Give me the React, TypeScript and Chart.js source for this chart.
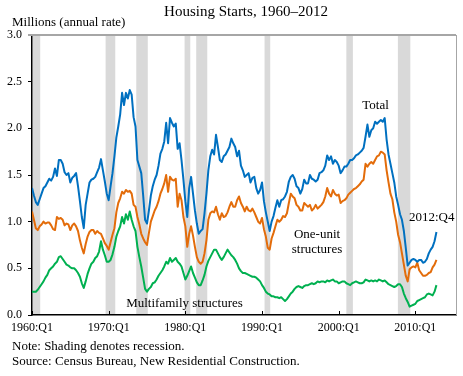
import React, { useEffect, useRef } from "react";
import { Chart, registerables } from "chart.js";

Chart.register(...registerables);

const FONT = '"Liberation Serif", "Times New Roman", Times, serif';

// Quarterly data, 1960:Q1 .. 2012:Q4 (millions, annual rate)
const firstYear = 1960;

const totalStarts = [
  1.36, 1.28, 1.21, 1.18, // 1960
  1.24, 1.30, 1.36, 1.38, // 1961
  1.42, 1.46, 1.44, 1.48, // 1962
  1.57, 1.49, 1.66, 1.66, // 1963
  1.62, 1.53, 1.50, 1.52, // 1964
  1.42, 1.47, 1.49, 1.52, // 1965
  1.38, 1.22, 1.05, 0.93, // 1966
  1.18, 1.30, 1.42, 1.45, // 1967
  1.46, 1.48, 1.53, 1.58, // 1968
  1.67, 1.55, 1.43, 1.30, // 1969
  1.23, 1.38, 1.52, 1.70, // 1970
  1.90, 2.02, 2.15, 2.38, // 1971
  2.25, 2.38, 2.32, 2.41, // 1972
  2.36, 2.12, 2.02, 1.66, // 1973
  1.59, 1.52, 1.28, 1.02, // 1974
  0.98, 1.12, 1.28, 1.38, // 1975
  1.45, 1.50, 1.60, 1.73, // 1976
  1.78, 1.86, 2.06, 1.84, // 1977
  2.11, 2.06, 2.02, 2.05, // 1978
  1.78, 1.84, 1.66, 1.45, // 1979
  1.22, 1.05, 1.36, 1.48, // 1980
  1.30, 1.12, 0.98, 0.87, // 1981
  0.90, 0.92, 1.09, 1.30, // 1982
  1.55, 1.70, 1.77, 1.72, // 1983
  1.93, 1.80, 1.66, 1.64, // 1984
  1.70, 1.72, 1.76, 1.80, // 1985
  1.89, 1.84, 1.80, 1.70, // 1986
  1.76, 1.60, 1.55, 1.48, // 1987
  1.50, 1.52, 1.42, 1.47, // 1988
  1.48, 1.36, 1.30, 1.34, // 1989
  1.42, 1.22, 1.10, 1.00, // 1990
  0.90, 1.00, 1.06, 1.15, // 1991
  1.23, 1.16, 1.23, 1.24, // 1992
  1.27, 1.32, 1.43, 1.48, // 1993
  1.50, 1.46, 1.38, 1.36, // 1994
  1.30, 1.35, 1.45, 1.41, // 1995
  1.41, 1.50, 1.46, 1.45, // 1996
  1.43, 1.45, 1.52, 1.53, // 1997
  1.55, 1.60, 1.71, 1.66, // 1998
  1.70, 1.62, 1.66, 1.64, // 1999
  1.60, 1.52, 1.55, 1.59, // 2000
  1.59, 1.62, 1.66, 1.66, // 2001
  1.68, 1.71, 1.72, 1.74, // 2002
  1.76, 1.79, 1.91, 2.04, // 2003
  1.91, 1.98, 2.00, 2.07, // 2004
  2.05, 2.07, 2.09, 2.07, // 2005
  2.11, 1.88, 1.72, 1.62, // 2006
  1.52, 1.42, 1.27, 1.18, // 2007
  1.08, 1.02, 0.90, 0.72, // 2008
  0.53, 0.56, 0.59, 0.60, // 2009
  0.59, 0.57, 0.59, 0.59, // 2010
  0.56, 0.57, 0.60, 0.66, // 2011
  0.70, 0.73, 0.79, 0.89, // 2012
];

const oneUnitStarts = [
  1.11, 1.02, 0.93, 0.91, // 1960
  0.95, 0.97, 1.00, 0.98, // 1961
  0.99, 0.99, 0.96, 0.92, // 1962
  0.91, 1.05, 1.03, 1.04, // 1963
  1.02, 0.96, 0.98, 0.97, // 1964
  0.91, 0.96, 0.98, 0.95, // 1965
  0.90, 0.80, 0.72, 0.66, // 1966
  0.76, 0.84, 0.89, 0.91, // 1967
  0.91, 0.87, 0.90, 0.88, // 1968
  0.87, 0.82, 0.77, 0.74, // 1969
  0.70, 0.78, 0.86, 0.93, // 1970
  1.10, 1.20, 1.25, 1.32, // 1971
  1.30, 1.34, 1.32, 1.33, // 1972
  1.30, 1.18, 1.16, 1.05, // 1973
  0.97, 0.87, 0.82, 0.78, // 1974
  0.75, 0.88, 1.00, 1.06, // 1975
  1.12, 1.16, 1.22, 1.30, // 1976
  1.35, 1.41, 1.50, 1.32, // 1977
  1.48, 1.45, 1.44, 1.46, // 1978
  1.16, 1.30, 1.23, 1.05, // 1979
  0.95, 0.73, 0.87, 0.95, // 1980
  0.85, 0.73, 0.62, 0.57, // 1981
  0.55, 0.57, 0.66, 0.80, // 1982
  1.02, 1.09, 1.11, 1.10, // 1983
  1.16, 1.08, 1.02, 1.09, // 1984
  1.05, 1.06, 1.10, 1.16, // 1985
  1.21, 1.16, 1.16, 1.23, // 1986
  1.27, 1.20, 1.16, 1.11, // 1987
  1.16, 1.12, 1.11, 1.14, // 1988
  1.10, 1.05, 1.00, 0.98, // 1989
  1.04, 0.92, 0.84, 0.72, // 1990
  0.70, 0.82, 0.88, 0.95, // 1991
  1.02, 1.00, 1.02, 1.06, // 1992
  1.05, 1.09, 1.20, 1.30, // 1993
  1.27, 1.25, 1.18, 1.16, // 1994
  1.12, 1.12, 1.20, 1.18, // 1995
  1.16, 1.18, 1.12, 1.14, // 1996
  1.18, 1.14, 1.16, 1.18, // 1997
  1.21, 1.27, 1.36, 1.30, // 1998
  1.27, 1.34, 1.30, 1.28, // 1999
  1.29, 1.20, 1.22, 1.23, // 2000
  1.25, 1.29, 1.31, 1.33, // 2001
  1.35, 1.36, 1.38, 1.40, // 2002
  1.43, 1.45, 1.62, 1.59, // 2003
  1.62, 1.64, 1.62, 1.66, // 2004
  1.70, 1.71, 1.75, 1.74, // 2005
  1.72, 1.55, 1.42, 1.30, // 2006
  1.24, 1.10, 1.00, 0.86, // 2007
  0.78, 0.66, 0.54, 0.42, // 2008
  0.36, 0.49, 0.51, 0.52, // 2009
  0.51, 0.56, 0.48, 0.45, // 2010
  0.42, 0.42, 0.43, 0.45, // 2011
  0.46, 0.51, 0.54, 0.59, // 2012
];

const multifamilyStarts = [
  0.25, 0.25, 0.25, 0.27, // 1960
  0.30, 0.33, 0.36, 0.40, // 1961
  0.43, 0.48, 0.50, 0.52, // 1962
  0.55, 0.57, 0.62, 0.63, // 1963
  0.60, 0.57, 0.54, 0.53, // 1964
  0.51, 0.50, 0.50, 0.48, // 1965
  0.45, 0.41, 0.34, 0.29, // 1966
  0.36, 0.44, 0.50, 0.55, // 1967
  0.57, 0.61, 0.63, 0.68, // 1968
  0.79, 0.70, 0.64, 0.57, // 1969
  0.57, 0.59, 0.65, 0.73, // 1970
  0.84, 0.90, 0.95, 1.05, // 1971
  0.98, 1.08, 1.02, 1.11, // 1972
  1.02, 0.95, 0.90, 0.73, // 1973
  0.62, 0.52, 0.40, 0.28, // 1974
  0.25, 0.28, 0.30, 0.34, // 1975
  0.35, 0.38, 0.42, 0.45, // 1976
  0.48, 0.52, 0.57, 0.55, // 1977
  0.61, 0.57, 0.59, 0.61, // 1978
  0.57, 0.55, 0.52, 0.45, // 1979
  0.38, 0.42, 0.47, 0.52, // 1980
  0.45, 0.40, 0.35, 0.32, // 1981
  0.32, 0.37, 0.43, 0.52, // 1982
  0.58, 0.62, 0.66, 0.70, // 1983
  0.70, 0.66, 0.62, 0.59, // 1984
  0.62, 0.66, 0.70, 0.67, // 1985
  0.64, 0.62, 0.59, 0.55, // 1986
  0.50, 0.47, 0.45, 0.45, // 1987
  0.44, 0.43, 0.42, 0.41, // 1988
  0.41, 0.40, 0.38, 0.36, // 1989
  0.32, 0.29, 0.25, 0.23, // 1990
  0.22, 0.20, 0.20, 0.19, // 1991
  0.19, 0.18, 0.19, 0.17, // 1992
  0.15, 0.17, 0.20, 0.23, // 1993
  0.25, 0.28, 0.30, 0.31, // 1994
  0.30, 0.29, 0.31, 0.32, // 1995
  0.32, 0.33, 0.34, 0.33, // 1996
  0.34, 0.36, 0.35, 0.36, // 1997
  0.36, 0.35, 0.37, 0.36, // 1998
  0.37, 0.38, 0.36, 0.36, // 1999
  0.34, 0.35, 0.36, 0.36, // 2000
  0.34, 0.33, 0.32, 0.34, // 2001
  0.35, 0.36, 0.35, 0.34, // 2002
  0.34, 0.35, 0.38, 0.37, // 2003
  0.36, 0.37, 0.36, 0.37, // 2004
  0.36, 0.38, 0.37, 0.36, // 2005
  0.37, 0.35, 0.33, 0.32, // 2006
  0.31, 0.30, 0.31, 0.33, // 2007
  0.33, 0.30, 0.23, 0.18, // 2008
  0.14, 0.09, 0.10, 0.11, // 2009
  0.12, 0.15, 0.16, 0.17, // 2010
  0.18, 0.19, 0.22, 0.23, // 2011
  0.22, 0.21, 0.25, 0.32, // 2012
];

// Recession shading (fractional years)
const recessionStarts = [1960.1, 1969.6, 1973.6, 1979.9, 1981.42, 1990.33, 2001.0, 2007.72];
const recessionEnds = [1961.07, 1970.86, 1975.1, 1980.64, 1982.86, 1991.07, 2001.85, 2009.34];

const xTickYears = [1960, 1970, 1980, 1990, 2000, 2010];
const xTickLabels = ["1960:Q1", "1970:Q1", "1980:Q1", "1990:Q1", "2000:Q1", "2010:Q1"];
const yTickValues = [0, 0.5, 1.0, 1.5, 2.0, 2.5, 3.0];

const toPoints = (values: number[]) =>
  values.map((v, i) => ({ x: firstYear + i / 4, y: v }));

const recessionPlugin = {
  id: "recessionShading",
  beforeDraw(chart: any) {
    const { ctx, chartArea: a, scales } = chart;
    const x = scales.x;
    ctx.save();
    ctx.fillStyle = "#d9d9d9";
    recessionStarts.forEach((s, i) => {
      const x0 = x.getPixelForValue(s);
      const x1 = x.getPixelForValue(recessionEnds[i]);
      ctx.fillRect(x0, a.top, x1 - x0, a.bottom - a.top);
    });
    ctx.restore();
  },
};

const framePlugin = {
  id: "frameAndText",
  afterDraw(chart: any) {
    const { ctx, chartArea: a, scales } = chart;
    ctx.save();
    // top & right frame (gray)
    ctx.strokeStyle = "#a6a6a6";
    ctx.lineWidth = 2;
    ctx.beginPath();
    ctx.moveTo(a.left - 4, a.top);
    ctx.lineTo(a.right, a.top);
    ctx.stroke();
    ctx.lineWidth = 1;
    ctx.beginPath();
    ctx.moveTo(a.right + 0.5, a.top);
    ctx.lineTo(a.right + 0.5, a.bottom);
    ctx.stroke();
    // inward x ticks
    ctx.strokeStyle = "#000";
    ctx.lineWidth = 1;
    xTickYears.forEach((yr) => {
      const px = Math.round(scales.x.getPixelForValue(yr)) + 0.5;
      ctx.beginPath();
      ctx.moveTo(px, a.bottom);
      ctx.lineTo(px, a.bottom - 4);
      ctx.stroke();
    });

    // texts
    ctx.fillStyle = "#000";
    ctx.textBaseline = "alphabetic";
    ctx.font = `15px ${FONT}`;
    ctx.textAlign = "center";
    ctx.fillText("Housing Starts, 1960\u20132012", 246, 15.5);
    ctx.font = `13px ${FONT}`;
    ctx.textAlign = "left";
    ctx.fillText("Millions (annual rate)", 12, 26);
    ctx.fillText("Note: Shading denotes recession.", 12, 350);
    ctx.fillText("Source: Census Bureau, New Residential Construction.", 12, 365);
    ctx.fillText("2012:Q4", 409, 220.5);
    ctx.textAlign = "center";
    ctx.fillText("Total", 375.5, 109);
    ctx.fillText("One-unit", 317, 238);
    ctx.fillText("structures", 317, 253);
    ctx.fillText("Multifamily structures", 184.5, 307);
    ctx.restore();
  },
};

export default function App() {
  const canvasRef = useRef<HTMLCanvasElement | null>(null);

  useEffect(() => {
    if (!canvasRef.current) return;
    const chart = new Chart(canvasRef.current, {
      type: "line",
      data: {
        datasets: [
          {
            label: "Total",
            data: toPoints(totalStarts),
            borderColor: "#0070c0",
            borderWidth: 2,
            pointRadius: 0,
            tension: 0,
            borderJoinStyle: "round",
          },
          {
            label: "One-unit structures",
            data: toPoints(oneUnitStarts),
            borderColor: "#e36c0a",
            borderWidth: 2,
            pointRadius: 0,
            tension: 0,
            borderJoinStyle: "round",
          },
          {
            label: "Multifamily structures",
            data: toPoints(multifamilyStarts),
            borderColor: "#00b050",
            borderWidth: 2,
            pointRadius: 0,
            tension: 0,
            borderJoinStyle: "round",
          },
        ],
      },
      options: {
        animation: false,
        responsive: false,
        devicePixelRatio: 1,
        parsing: true,
        layout: { padding: { top: 35, right: 7, left: 0, bottom: 0 } },
        plugins: {
          legend: { display: false },
          tooltip: { enabled: false },
          title: { display: false },
        },
        scales: {
          x: {
            type: "linear",
            min: 1960,
            max: 2015.3,
            afterBuildTicks: (s: any) => {
              s.ticks = xTickYears.map((v) => ({ value: v }));
            },
            afterFit: (s: any) => {
              s.height = 61;
            },
            grid: { display: false, drawTicks: false },
            border: { display: true, color: "#000", width: 1.5 },
            ticks: {
              callback: (_v: any, i: number) => xTickLabels[i],
              font: { family: FONT, size: 12 },
              color: "#000",
              padding: 6,
              maxRotation: 0,
              autoSkip: false,
            },
          },
          y: {
            type: "linear",
            min: 0,
            max: 3,
            afterBuildTicks: (s: any) => {
              s.ticks = yTickValues.map((v) => ({ value: v }));
            },
            afterFit: (s: any) => {
              s.width = 32;
            },
            grid: {
              display: true,
              drawOnChartArea: false,
              drawTicks: true,
              tickLength: 4,
              color: "#000",
            },
            border: { display: true, color: "#000", width: 1.5 },
            ticks: {
              callback: (v: any) => Number(v).toFixed(1),
              font: { family: FONT, size: 12 },
              color: "#000",
              padding: 6,
            },
          },
        },
      },
      plugins: [recessionPlugin, framePlugin],
    } as any);
    return () => chart.destroy();
  }, []);

  return (
    <div style={{ position: "fixed", left: 0, top: 0, width: 463, height: 376, background: "#fff" }}>
      <canvas ref={canvasRef} width={463} height={376} style={{ display: "block" }} />
    </div>
  );
}
